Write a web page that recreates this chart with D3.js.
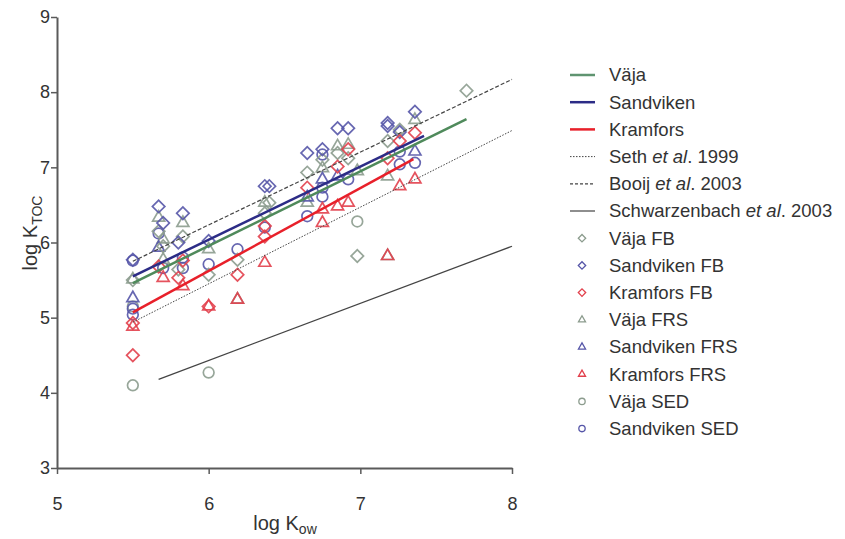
<!DOCTYPE html>
<html>
<head>
<meta charset="utf-8">
<script src="https://cdn.jsdelivr.net/npm/d3@7"></script>
<style>
  body { margin: 0; background: #fff; }
  svg { font-family: "Liberation Sans", Arial, sans-serif; }
</style>
</head>
<body>
<svg id="chart" width="845" height="539"></svg>
<script>
// ---- data (log Kow, log KTOC) ----
const vajaFB = [[5.5,5.5],[5.67,6.15],[5.7,5.95],[5.83,6.08],[5.8,5.64],[6.0,5.57],[6.19,5.77],[6.37,6.39],[6.4,6.53],[6.65,6.93],[6.75,7.1],[6.85,7.19],[6.92,7.12],[6.98,5.82],[7.18,7.35],[7.26,7.5],[7.7,8.02]];
const sandvikenFB = [[5.5,5.77],[5.67,6.48],[5.7,6.26],[5.83,6.39],[5.8,6.0],[6.0,6.02],[6.37,6.75],[6.4,6.75],[6.65,7.19],[6.75,7.24],[6.85,7.52],[6.92,7.52],[7.18,7.59],[7.18,7.55],[7.26,7.47],[7.36,7.74]];
const kramforsFB = [[5.5,4.93],[5.5,4.5],[5.67,5.68],[5.83,5.76],[5.8,5.53],[6.0,5.15],[6.19,5.57],[6.37,6.22],[6.37,6.08],[6.65,6.73],[6.85,7.01],[6.92,7.24],[7.18,7.12],[7.26,7.35],[7.36,7.46]];
const vajaFRS = [[5.5,5.51],[5.67,6.33],[5.7,6.04],[5.7,5.77],[5.83,6.26],[6.0,5.91],[6.19,5.24],[6.37,6.53],[6.65,6.53],[6.75,6.99],[6.85,7.28],[6.92,7.3],[6.98,6.95],[7.18,6.88],[7.18,5.82],[7.36,7.63]];
const sandvikenFRS = [[5.5,5.26],[5.67,5.93],[6.65,6.6],[6.75,6.84],[6.85,6.88],[7.36,7.21]];
const kramforsFRS = [[5.5,4.88],[5.7,5.53],[5.83,5.42],[6.0,5.15],[6.19,5.24],[6.37,5.73],[6.75,6.44],[6.75,6.26],[6.85,6.48],[6.92,6.53],[7.18,5.82],[7.26,6.75],[7.36,6.84]];
const vajaSED = [[5.5,5.15],[5.5,4.1],[6.0,4.27],[6.98,6.28]];
const sandvikenSED = [[5.5,5.76],[5.5,5.12],[5.5,5.04],[5.67,6.12],[5.7,5.66],[5.83,5.8],[5.83,5.66],[6.0,5.71],[6.19,5.91],[6.37,6.2],[6.65,6.35],[6.75,7.17],[6.75,6.73],[6.75,6.61],[6.92,6.84],[7.26,7.21],[7.26,7.04],[7.36,7.06]];

// fitted / literature lines (end points)
const vajaLine = [[5.5,5.46],[7.7,7.64]];
const sandvikenLine = [[5.5,5.55],[7.42,7.42]];
const kramforsLine = [[5.5,5.07],[7.35,7.11]];
const sethLine = [[5.5,4.94],[8.0,7.49]];
const booijLine = [[5.5,5.75],[8.0,8.17]];
const schwarzLine = [[5.67,4.18],[8.0,5.95]];

const xTicks = [5, 6, 7, 8];
const yTicks = [3, 4, 5, 6, 7, 8, 9];

const lineLegend = ["Väja", "Sandviken", "Kramfors", "Seth et al. 1999", "Booij et al. 2003", "Schwarzenbach et al. 2003"];
const pointLegend = ["Väja FB", "Sandviken FB", "Kramfors FB", "Väja FRS", "Sandviken FRS", "Kramfors FRS", "Väja SED", "Sandviken SED"];

// ---- setup ----
const svg = d3.select("#chart");
const margin = { left: 57, top: 17, right: 512, bottom: 468 };

const x = d3.scaleLinear().domain([5, 8]).range([margin.left, margin.right]);
const y = d3.scaleLinear().domain([3, 9]).range([margin.bottom, margin.top]);

const colVaja = "#8c9c8e", colSand = "#5656a8", colKram = "#e2404c";

// axes
const xAxis = svg.append("g")
  .attr("transform", `translate(0,${margin.bottom})`)
  .call(d3.axisBottom(x).tickValues(xTicks).tickFormat(d3.format("d")).tickSize(6).tickSizeOuter(0));
const yAxis = svg.append("g")
  .attr("transform", `translate(${margin.left},0)`)
  .call(d3.axisLeft(y).tickValues(yTicks).tickFormat(d3.format("d")).tickSize(6).tickSizeOuter(0));

[xAxis, yAxis].forEach(g => {
  g.select(".domain").attr("stroke", "#5a5a5a").attr("stroke-width", 2);
  g.selectAll(".tick line").attr("stroke", "#5a5a5a").attr("stroke-width", 1.5);
  g.selectAll(".tick text").attr("fill", "#333").style("font-size", "18px")
    .style("font-family", "'Liberation Sans', Arial, sans-serif");
});
xAxis.selectAll(".tick text").attr("y", 42).attr("dy", 0);
yAxis.selectAll(".tick text").attr("x", -7);

// axis titles
const yt = svg.append("text")
  .attr("transform", "translate(37,233) rotate(-90)")
  .attr("text-anchor", "middle")
  .attr("fill", "#333")
  .style("font-size", "20px");
yt.append("tspan").text("log K");
yt.append("tspan").attr("dy", 5).style("font-size", "14px").text("TOC");

const xt = svg.append("text")
  .attr("x", 285).attr("y", 530)
  .attr("text-anchor", "middle")
  .attr("fill", "#333")
  .style("font-size", "20px");
xt.append("tspan").text("log K");
xt.append("tspan").attr("dy", 4).style("font-size", "14px").text("ow");

// lines
const line = d3.line().x(d => x(d[0])).y(d => y(d[1]));
const lineDefs = [
  { data: sethLine, color: "#444", width: 1, dash: "1.5,1.5" },
  { data: booijLine, color: "#444", width: 1.2, dash: "4,2" },
  { data: schwarzLine, color: "#444", width: 1.3, dash: null },
  { data: vajaLine, color: "#4f8a5b", width: 2.5, dash: null },
  { data: sandvikenLine, color: "#2c2c86", width: 2.5, dash: null },
  { data: kramforsLine, color: "#e8202a", width: 2.5, dash: null }
];

// points
const sq = d3.symbol().type(d3.symbolSquare);
const ci = d3.symbol().type(d3.symbolCircle);
const tr = d3.symbol().type(d3.symbolTriangle);
const pointDefs = [
  { data: vajaSED, color: colVaja, shape: "circle" },
  { data: sandvikenSED, color: colSand, shape: "circle" },
  { data: vajaFRS, color: colVaja, shape: "triangle" },
  { data: sandvikenFRS, color: colSand, shape: "triangle" },
  { data: kramforsFRS, color: colKram, shape: "triangle" },
  { data: vajaFB, color: colVaja, shape: "diamond" },
  { data: sandvikenFB, color: colSand, shape: "diamond" },
  { data: kramforsFB, color: colKram, shape: "diamond" }
];

function symbolPath(shape, scale) {
  if (shape === "diamond") return sq.size(78 * scale)();
  if (shape === "circle") return ci.size(90 * scale)();
  return tr.size(62 * scale)();
}
function symbolTransform(shape, px, py) {
  return shape === "diamond" ? `translate(${px},${py}) rotate(45)` : `translate(${px},${py})`;
}

pointDefs.forEach(s => {
  svg.append("g").selectAll("path")
    .data(s.data)
    .join("path")
    .attr("d", symbolPath(s.shape, 1))
    .attr("transform", d => symbolTransform(s.shape, x(d[0]), y(d[1])))
    .attr("fill", "none")
    .attr("stroke", s.color)
    .attr("stroke-width", 1.7)
    .attr("stroke-opacity", 0.9);
});

lineDefs.forEach(l => {
  svg.append("path")
    .datum(l.data)
    .attr("d", line)
    .attr("fill", "none")
    .attr("stroke", l.color)
    .attr("stroke-width", l.width)
    .attr("stroke-dasharray", l.dash);
});

// legend
const legX = 570, legTextX = 609, legY0 = 75, legStep = 27.2;
const legendLines = [
  { color: "#5f9470", width: 2.5, dash: null },
  { color: "#2c2c86", width: 2.5, dash: null },
  { color: "#e8202a", width: 2.5, dash: null },
  { color: "#444", width: 1, dash: "1.5,1.5" },
  { color: "#444", width: 1.2, dash: "3,2" },
  { color: "#444", width: 1.2, dash: null }
];
const leg = svg.append("g").style("font-size", "18.5px").attr("fill", "#333");

lineLegend.forEach((name, i) => {
  const yy = legY0 + i * legStep;
  const st = legendLines[i];
  leg.append("line")
    .attr("x1", legX).attr("x2", legX + 25).attr("y1", yy).attr("y2", yy)
    .attr("stroke", st.color).attr("stroke-width", st.width).attr("stroke-dasharray", st.dash);
  const t = leg.append("text").attr("x", legTextX).attr("y", yy).attr("dy", "0.35em");
  const m = name.match(/^(.*)(et al)(\..*)$/);
  if (m) {
    t.append("tspan").text(m[1]);
    t.append("tspan").style("font-style", "italic").text(m[2]);
    t.append("tspan").text(m[3]);
  } else {
    t.text(name);
  }
});

pointLegend.forEach((name, i) => {
  const yy = legY0 + (i + 6) * legStep;
  const pd = [pointDefs[5], pointDefs[6], pointDefs[7], pointDefs[2], pointDefs[3], pointDefs[4], pointDefs[0], pointDefs[1]][i];
  leg.append("path")
    .attr("d", symbolPath(pd.shape, 0.35))
    .attr("transform", symbolTransform(pd.shape, 582, yy))
    .attr("fill", "none")
    .attr("stroke", pd.color)
    .attr("stroke-width", 1.3);
  leg.append("text").attr("x", legTextX).attr("y", yy).attr("dy", "0.35em").text(name);
});
</script>
</body>
</html>
